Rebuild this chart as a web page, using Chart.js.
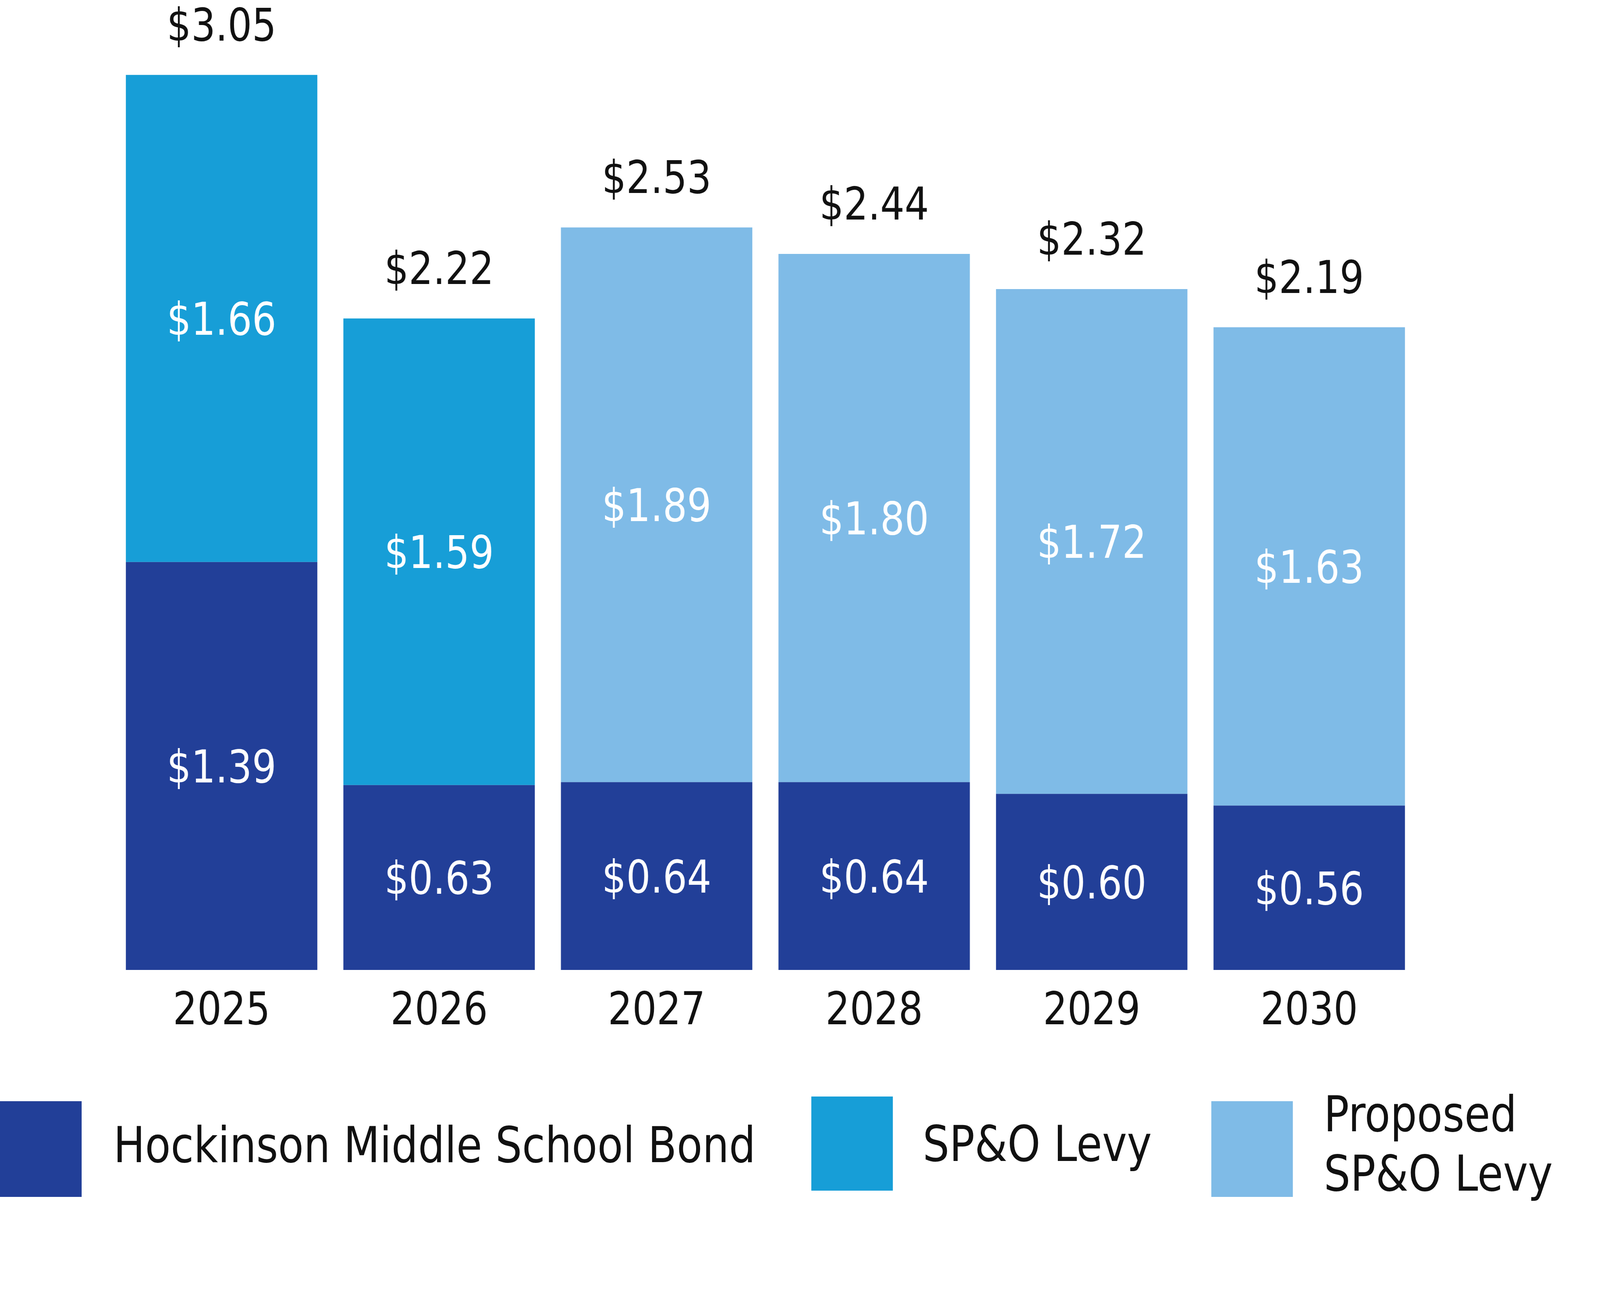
<!DOCTYPE html>
<html>
<head>
<meta charset="utf-8">
<title>Tax rate by year</title>
<script src="https://cdn.jsdelivr.net/npm/chart.js@4.4.1/dist/chart.umd.min.js"></script>
<style>
  html, body { margin: 0; padding: 0; background: #fff; overflow: hidden; }
  #wrap { position: relative; width: 4808px; height: 3310px; transform-origin: 0 0; }
  #chart { position: absolute; left: 0; top: 0; }
  .sw { position: absolute; }
  .lt { position: absolute; font-family: "DejaVu Sans", sans-serif; font-size: 126px; line-height: 152px; color: #111; white-space: nowrap; }
</style>
</head>
<body>
<div id="wrap">
  <canvas id="chart" width="4808" height="3310"></canvas>
  <div id="legend"></div>
</div>
<script>
const years = ['2025', '2026', '2027', '2028', '2029', '2030'];
const bondValues = [1.39, 0.63, 0.64, 0.64, 0.60, 0.56];
const levyValues = [1.66, 1.59, null, null, null, null];
const proposedValues = [null, null, 1.89, 1.80, 1.72, 1.63];
const seriesNames = ['Hockinson Middle School Bond', 'SP&O Levy', 'Proposed SP&O Levy'];

const FONT = '"DejaVu Sans", sans-serif';
const money = v => '$' + v.toFixed(2);

// the window may be narrower than the 4808px design, squeeze to fit
const sx = Math.min(1, window.innerWidth / 4808);
const sy = Math.min(1, window.innerHeight / 3310);
document.getElementById('wrap').style.transform = `scale(${sx}, ${sy})`;

// draws the value inside each segment and the total above each bar
const valueLabels = {
  id: 'valueLabels',
  afterDatasetsDraw(chart) {
    const ctx = chart.ctx;
    const yScale = chart.scales.y;
    ctx.save();
    ctx.font = '115px ' + FONT;
    ctx.textAlign = 'center';
    ctx.textBaseline = 'alphabetic';
    ctx.fillStyle = '#fff';
    chart.data.datasets.forEach((ds, i) => {
      chart.getDatasetMeta(i).data.forEach((bar, j) => {
        const v = ds.data[j];
        if (v == null) return;
        ctx.fillText(money(v), bar.x, (bar.y + bar.base) / 2 + 42);
      });
    });
    ctx.fillStyle = '#111';
    years.forEach((y, j) => {
      const total = chart.data.datasets.reduce((s, ds) => s + (ds.data[j] || 0), 0);
      const x = chart.getDatasetMeta(0).data[j].x;
      ctx.fillText(money(total), x, yScale.getPixelForValue(total) - 88);
    });
    ctx.restore();
  }
};

const chart = new Chart(document.getElementById('chart'), {
  type: 'bar',
  data: {
    labels: years,
    datasets: [
      { label: seriesNames[0], data: bondValues, backgroundColor: '#223f98' },
      { label: seriesNames[1], data: levyValues, backgroundColor: '#179ed7' },
      { label: seriesNames[2], data: proposedValues, backgroundColor: '#7fbbe7' }
    ]
  },
  options: {
    responsive: false,
    devicePixelRatio: 1,
    animation: false,
    datasets: { bar: { barPercentage: 0.88, categoryPercentage: 1, borderWidth: 0 } },
    layout: { padding: { left: 339, right: 547, top: 79, bottom: 609 } },
    plugins: { legend: { display: false }, tooltip: { enabled: false } },
    scales: {
      x: {
        stacked: true,
        grid: { display: false, drawTicks: false },
        border: { display: false },
        ticks: { color: '#111', padding: 40, font: { family: FONT, size: 115 } }
      },
      y: { stacked: true, display: false, min: 0, max: 3.2 }
    }
  },
  plugins: [valueLabels]
});

// html legend built from the chart's datasets
const legendBoxes = [
  { sw: [0, 2819, 245, 245], txt: [341, 2856] },
  { sw: [2438, 2807, 245, 241], txt: [2773, 2853] },
  { sw: [3640, 2819, 245, 245], txt: [3978, 2777] }
];
const legend = document.getElementById('legend');
chart.data.datasets.forEach((ds, i) => {
  const b = legendBoxes[i];
  const sw = document.createElement('div');
  sw.className = 'sw';
  sw.style.cssText = `left:${b.sw[0]}px;top:${b.sw[1]}px;width:${b.sw[2]}px;height:${b.sw[3]}px;background:${ds.backgroundColor}`;
  legend.appendChild(sw);
  const t = document.createElement('div');
  t.className = 'lt';
  t.style.left = b.txt[0] + 'px';
  t.style.top = b.txt[1] + 'px';
  t.innerHTML = i === 2 ? 'Proposed<br>SP&amp;O Levy' : ds.label.replace('&', '&amp;');
  legend.appendChild(t);
});
</script>
</body>
</html>
